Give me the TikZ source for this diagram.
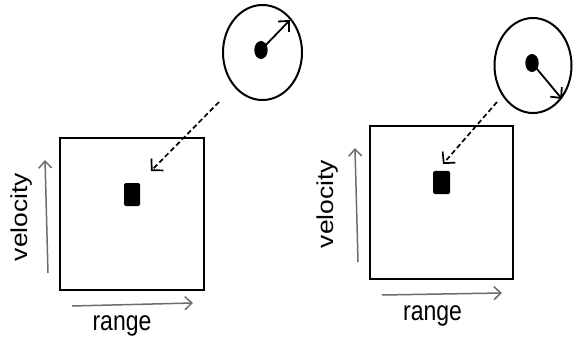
\documentclass[tikz,border=0pt]{standalone}
\usepackage{fontspec}
\setmainfont{Liberation Sans}
\usetikzlibrary{arrows.meta}
\tikzset{
  plotbox/.style={draw=black, line width=2.6pt, fill=white},
  target/.style={fill=black, rounded corners=1.5pt},
  axisarrow/.style={draw=gray!85!black, line width=1.5pt, -{Straight Barb[length=7pt,width=13pt,line width=1.5pt]}},
  dot/.style={fill=black},
  vecarrow/.style={line width=1.8pt, -{Straight Barb[length=8pt,width=15pt,line width=1.8pt]}},
  dasharrow/.style={line width=1.7pt, dash pattern=on 5pt off 3pt, -{Straight Barb[length=8pt,width=17pt,line width=1.7pt]}},
  lbl/.style={font=\fontsize{23}{23}\selectfont, inner sep=0pt}
}
\begin{document}
\begin{tikzpicture}[x=1pt,y=-1pt]
\useasboundingbox (0,0) rectangle (573,342);
% ---------- left panel ----------
\draw[plotbox] (60,138) rectangle (204,290);
\fill[target] (124,183) rectangle (140,206);
\draw[axisarrow] (48,273) -- (45,160);
\draw[axisarrow] (72,306) -- (193,303);
\node[lbl, rotate=90, xscale=1.15] (lvel) at (22,217) {velocity};
\node[lbl, yscale=1.2] (lrange) at (122,326) {range};
\draw[line width=2pt] (262.5,52.5) ellipse [x radius=39.5, y radius=47.5];
\fill[dot] (261,50) ellipse [x radius=6.7, y radius=9];
\coordinate (lc) at (261,50);
\coordinate (lt) at (290,20);
\draw[vecarrow] (lc) -- (lt);
\coordinate (ls) at (219,102);
\coordinate (le) at (151,171);
\draw[dasharrow] (ls) -- (le);
% ---------- right panel ----------
\draw[plotbox] (370,126) rectangle (513,279);
\fill[target] (433,171) rectangle (450,194);
\draw[axisarrow] (358,262) -- (355,148);
\draw[axisarrow] (382,295) -- (502,293);
\node[lbl, rotate=90, xscale=1.15] (rvel) at (328,204) {velocity};
\node[lbl, yscale=1.2] (rrange) at (432.5,316) {range};
\draw[line width=2pt] (533,65.5) ellipse [x radius=38.5, y radius=47.5];
\fill[dot] (532,63) ellipse [x radius=6.7, y radius=9];
\coordinate (rc) at (532,63);
\coordinate (rt) at (562,99);
\draw[vecarrow] (rc) -- (rt);
\coordinate (rs) at (497,102);
\coordinate (re) at (443,164);
\draw[dasharrow] (rs) -- (re);
\end{tikzpicture}
\end{document}
